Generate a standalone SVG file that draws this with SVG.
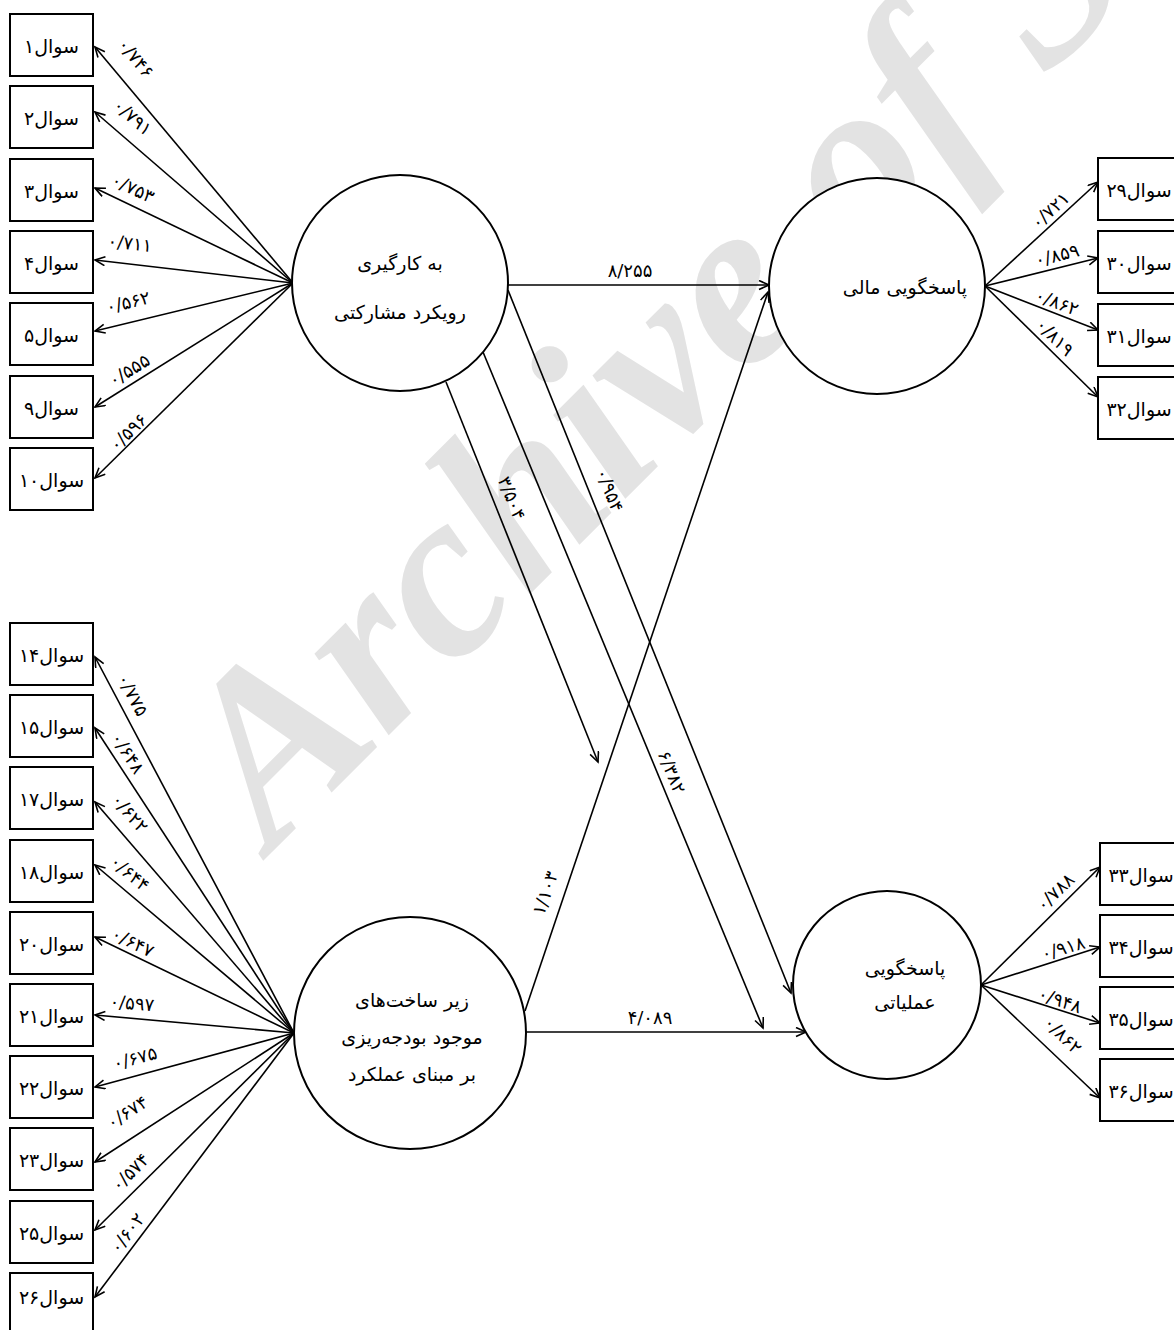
<svg xmlns="http://www.w3.org/2000/svg" width="1174" height="1330" viewBox="0 0 1174 1330">
<defs>
<marker id="ah" markerUnits="userSpaceOnUse" markerWidth="14" markerHeight="12" refX="11" refY="5" orient="auto">
<path d="M1,0.5 L11,5 L1,9.5" fill="none" stroke="#000" stroke-width="1.6"/>
</marker>
<style>
.box{fill:#fff;stroke:#000;stroke-width:2}
.node{fill:#fff;stroke:#000;stroke-width:2}
.ln{stroke:#000;stroke-width:1.6;fill:none;marker-end:url(#ah)}
.t{font-family:"DejaVu Sans",sans-serif;font-size:19px;fill:#000;text-anchor:middle;dominant-baseline:central}
.n{font-family:"DejaVu Sans",sans-serif;font-size:18px;letter-spacing:1px;fill:#000;text-anchor:middle;dominant-baseline:central}
.wm{font-family:"Liberation Serif",serif;font-style:italic;font-weight:bold;font-size:240px;fill:#e3e3e3}
</style>
</defs>
<rect width="1174" height="1330" fill="#fff"/>
<text class="wm" transform="translate(272,852) rotate(-45)">Archive of SID</text>

<g id="connectors">
<line class="ln" x1="293" y1="283" x2="95" y2="47"/>
<line class="ln" x1="293" y1="283" x2="95" y2="112"/>
<line class="ln" x1="293" y1="283" x2="95" y2="188"/>
<line class="ln" x1="293" y1="283" x2="95" y2="260"/>
<line class="ln" x1="293" y1="283" x2="95" y2="331"/>
<line class="ln" x1="293" y1="283" x2="95" y2="407"/>
<line class="ln" x1="293" y1="283" x2="95" y2="478"/>

<line class="ln" x1="294" y1="1033" x2="95" y2="657"/>
<line class="ln" x1="294" y1="1033" x2="95" y2="728"/>
<line class="ln" x1="294" y1="1033" x2="95" y2="802"/>
<line class="ln" x1="294" y1="1033" x2="95" y2="865"/>
<line class="ln" x1="294" y1="1033" x2="95" y2="937"/>
<line class="ln" x1="294" y1="1033" x2="95" y2="1015"/>
<line class="ln" x1="294" y1="1033" x2="95" y2="1087"/>
<line class="ln" x1="294" y1="1033" x2="95" y2="1162"/>
<line class="ln" x1="294" y1="1033" x2="95" y2="1230"/>
<line class="ln" x1="294" y1="1033" x2="95" y2="1297"/>

<line class="ln" x1="985" y1="286" x2="1098" y2="182"/>
<line class="ln" x1="985" y1="286" x2="1098" y2="258"/>
<line class="ln" x1="985" y1="286" x2="1098" y2="330"/>
<line class="ln" x1="985" y1="286" x2="1098" y2="397"/>

<line class="ln" x1="981" y1="985" x2="1100" y2="867"/>
<line class="ln" x1="981" y1="985" x2="1100" y2="947"/>
<line class="ln" x1="981" y1="985" x2="1100" y2="1023"/>
<line class="ln" x1="981" y1="985" x2="1100" y2="1098"/>

<line class="ln" x1="508" y1="285" x2="769" y2="285"/>
<line class="ln" x1="508" y1="290" x2="791" y2="993"/>
<line class="ln" x1="483" y1="352" x2="763" y2="1028"/>
<line class="ln" x1="446" y1="382" x2="598" y2="762"/>
<line class="ln" x1="525" y1="1011" x2="768" y2="292"/>
<line class="ln" x1="525" y1="1032" x2="806" y2="1032"/>

<text class="n" transform="translate(136,58) rotate(50)">۰/۷۴۶</text>
<text class="n" transform="translate(133,117) rotate(41)">۰/۷۹۱</text>
<text class="n" transform="translate(133,188) rotate(25.6)">۰/۷۵۳</text>
<text class="n" transform="translate(130,243) rotate(6.6)">۰/۷۱۱</text>
<text class="n" transform="translate(128,302) rotate(-13.6)">۰/۵۶۲</text>
<text class="n" transform="translate(129,370) rotate(-32)">۰/۵۵۵</text>
<text class="n" transform="translate(128,432) rotate(-44.6)">۰/۵۹۶</text>

<text class="n" transform="translate(133,695) rotate(62)">۰/۷۷۵</text>
<text class="n" transform="translate(128,753) rotate(57)">۰/۶۴۸</text>
<text class="n" transform="translate(130,813) rotate(49)">۰/۶۲۲</text>
<text class="n" transform="translate(130,873) rotate(40)">۰/۶۴۴</text>
<text class="n" transform="translate(133,942) rotate(26)">۰/۶۴۷</text>
<text class="n" transform="translate(132,1003) rotate(5)">۰/۵۹۷</text>
<text class="n" transform="translate(135,1058) rotate(-15)">۰/۶۷۵</text>
<text class="n" transform="translate(127,1112) rotate(-33)">۰/۶۷۴</text>
<text class="n" transform="translate(130,1172) rotate(-45)">۰/۵۷۴</text>
<text class="n" transform="translate(127,1233) rotate(-53)">۰/۶۰۲</text>

<text class="n" transform="translate(1050,210) rotate(-42.6)">۰/۷۲۱</text>
<text class="n" transform="translate(1057,255) rotate(-14)">۰/۸۵۹</text>
<text class="n" transform="translate(1057,302) rotate(21)">۰/۸۶۲</text>
<text class="n" transform="translate(1055,337) rotate(44.5)">۰/۸۱۹</text>

<text class="n" transform="translate(1055,892) rotate(-44)">۰/۷۸۸</text>
<text class="n" transform="translate(1063,948) rotate(-16.5)">۰/۹۱۸</text>
<text class="n" transform="translate(1060,1000) rotate(19)">۰/۹۴۸</text>
<text class="n" transform="translate(1063,1035) rotate(44.5)">۰/۸۶۲</text>

<text class="n" transform="translate(630,270)">۸/۲۵۵</text>
<text class="n" transform="translate(610,490) rotate(68)">۰/۹۵۴</text>
<text class="n" transform="translate(512,498) rotate(68)">۳/۵۰۴</text>
<text class="n" transform="translate(672,772) rotate(67.5)">۶/۳۸۲</text>
<text class="n" transform="translate(545,893) rotate(-71)">۱/۱۰۳</text>
<text class="n" transform="translate(650,1017)">۴/۰۸۹</text>
</g>

<g id="n-q1"><rect class="box" x="10" y="14" width="83" height="62"/><text class="t" x="51.5" y="46">سوال۱</text></g>
<g id="n-q2"><rect class="box" x="10" y="86" width="83" height="62"/><text class="t" x="51.5" y="118">سوال۲</text></g>
<g id="n-q3"><rect class="box" x="10" y="159" width="83" height="62"/><text class="t" x="51.5" y="191">سوال۳</text></g>
<g id="n-q4"><rect class="box" x="10" y="231" width="83" height="62"/><text class="t" x="51.5" y="263">سوال۴</text></g>
<g id="n-q5"><rect class="box" x="10" y="303" width="83" height="62"/><text class="t" x="51.5" y="335">سوال۵</text></g>
<g id="n-q9"><rect class="box" x="10" y="376" width="83" height="62"/><text class="t" x="51.5" y="408">سوال۹</text></g>
<g id="n-q10"><rect class="box" x="10" y="448" width="83" height="62"/><text class="t" x="51.5" y="480">سوال۱۰</text></g>

<g id="n-q14"><rect class="box" x="10" y="623" width="83" height="62"/><text class="t" x="51.5" y="655">سوال۱۴</text></g>
<g id="n-q15"><rect class="box" x="10" y="695" width="83" height="62"/><text class="t" x="51.5" y="727">سوال۱۵</text></g>
<g id="n-q17"><rect class="box" x="10" y="767" width="83" height="62"/><text class="t" x="51.5" y="799">سوال۱۷</text></g>
<g id="n-q18"><rect class="box" x="10" y="840" width="83" height="62"/><text class="t" x="51.5" y="872">سوال۱۸</text></g>
<g id="n-q20"><rect class="box" x="10" y="912" width="83" height="62"/><text class="t" x="51.5" y="944">سوال۲۰</text></g>
<g id="n-q21"><rect class="box" x="10" y="984" width="83" height="62"/><text class="t" x="51.5" y="1016">سوال۲۱</text></g>
<g id="n-q22"><rect class="box" x="10" y="1056" width="83" height="62"/><text class="t" x="51.5" y="1088">سوال۲۲</text></g>
<g id="n-q23"><rect class="box" x="10" y="1128" width="83" height="62"/><text class="t" x="51.5" y="1160">سوال۲۳</text></g>
<g id="n-q25"><rect class="box" x="10" y="1201" width="83" height="62"/><text class="t" x="51.5" y="1233">سوال۲۵</text></g>
<g id="n-q26"><rect class="box" x="10" y="1273" width="83" height="62"/><text class="t" x="51.5" y="1297">سوال۲۶</text></g>

<g id="n-q29"><rect class="box" x="1098" y="158" width="84" height="62"/><text class="t" x="1139" y="190">سوال۲۹</text></g>
<g id="n-q30"><rect class="box" x="1098" y="231" width="84" height="62"/><text class="t" x="1139" y="263">سوال۳۰</text></g>
<g id="n-q31"><rect class="box" x="1098" y="304" width="84" height="62"/><text class="t" x="1139" y="336">سوال۳۱</text></g>
<g id="n-q32"><rect class="box" x="1098" y="377" width="84" height="62"/><text class="t" x="1139" y="409">سوال۳۲</text></g>

<g id="n-q33"><rect class="box" x="1100" y="843" width="84" height="62"/><text class="t" x="1141" y="875">سوال۳۳</text></g>
<g id="n-q34"><rect class="box" x="1100" y="915" width="84" height="62"/><text class="t" x="1141" y="947">سوال۳۴</text></g>
<g id="n-q35"><rect class="box" x="1100" y="987" width="84" height="62"/><text class="t" x="1141" y="1019">سوال۳۵</text></g>
<g id="n-q36"><rect class="box" x="1100" y="1059" width="84" height="62"/><text class="t" x="1141" y="1091">سوال۳۶</text></g>

<g id="n-participation"><circle class="node" cx="400" cy="283" r="108"/>
<text class="t" x="400" y="263">به کارگیری</text>
<text class="t" x="400" y="312">رویکرد مشارکتی</text></g>
<g id="n-financial"><circle class="node" cx="877" cy="286" r="108"/>
<text class="t" x="905" y="287">پاسخگویی مالی</text></g>
<g id="n-infrastructure"><circle class="node" cx="410" cy="1033" r="116"/>
<text class="t" x="412" y="1000">زیر ساخت‌های</text>
<text class="t" x="412" y="1037">موجود بودجه‌ریزی</text>
<text class="t" x="412" y="1074">بر مبنای عملکرد</text></g>
<g id="n-operational"><circle class="node" cx="887" cy="985" r="94"/>
<text class="t" x="905" y="968">پاسخگویی</text>
<text class="t" x="905" y="1002">عملیاتی</text></g>
</svg>
